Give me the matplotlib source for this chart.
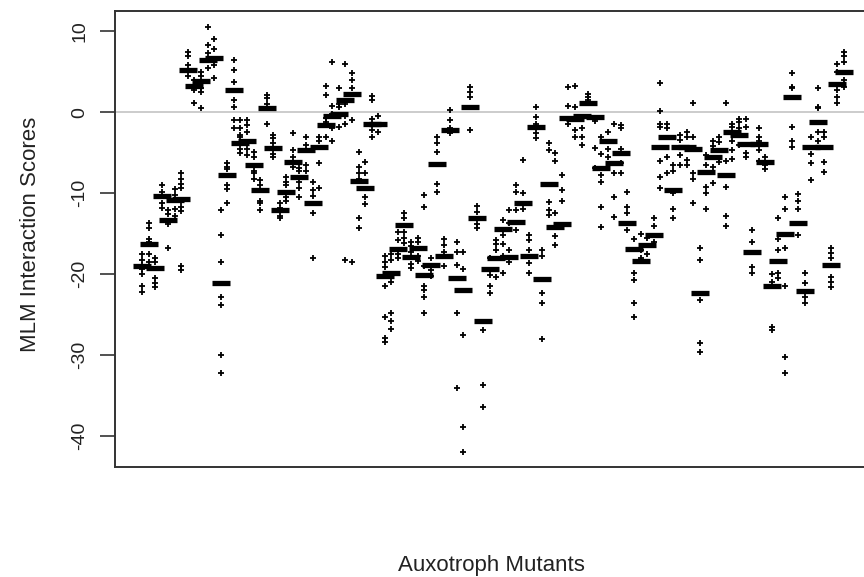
import numpy as np
import matplotlib
matplotlib.use("Agg")
import matplotlib.pyplot as plt

plt.rcParams['font.family'] = ['Liberation Sans', 'DejaVu Sans']

# median interaction score of each auxotroph mutant, left to right
medians = [
    -19.0, -16.3, -19.2, -10.4, -13.3, -10.8, -10.7, 5.2, 3.3, 3.8,
    6.5, 6.7, -21.1, -7.8, 2.8, -3.8, -3.5, -6.5, -9.6, 0.5,
    -4.4, -12.1, -9.9, -6.2, -8.0, -4.7, -11.2, -4.3, -1.6, -0.5,
    -0.2, 1.5, 2.2, -8.5, -9.4, -1.5, -1.5, -20.2, -19.9, -16.9,
    -13.9, -17.9, -16.8, -20.1, -18.9, -6.4, -17.8, -2.2, -20.5, -21.9,
    0.7, -13.0, -25.8, -19.3, -18.0, -14.4, -17.9, -13.5, -11.2, -17.8,
    -1.8, -20.6, -8.9, -14.2, -13.8, -0.7, -0.8, -0.5, 1.2, -0.6,
    -6.9, -3.5, -6.3, -5.0, -13.7, -16.9, -18.4, -16.4, -15.2, -4.3,
    -3.0, -9.6, -4.3, -4.3, -4.5, -22.3, -7.4, -5.5, -4.7, -7.8,
    -2.5, -2.8, -3.9, -17.3, -3.9, -6.1, -21.4, -18.4, -15.0, 1.9,
    -13.7, -22.1, -4.3, -1.2, -4.3, -18.9, 3.5, 5.0,
]

# individual replicate scores for each mutant
scores = [
    [-17.5, -18.2, -18.8, -19.3, -20.0, -21.5, -22.2],
    [-13.7, -14.3, -15.6, -16.0, -17.5, -18.5],
    [-18.0, -18.5, -20.5, -21.1, -21.6],
    [-9.0, -9.8, -11.2, -11.8],
    [-12.1, -12.6, -13.8, -16.8],
    [-9.5, -10.2, -12.0, -12.8],
    [-7.5, -8.3, -8.8, -9.3, -11.0, -11.7, -12.2, -19.0, -19.5],
    [7.0, 7.4, 5.8, 4.5],
    [4.0, 2.7, 1.2, 3.0],
    [5.0, 4.5, 2.5, 0.5, 3.0],
    [10.5, 8.3, 7.3, 5.5],
    [9.1, 7.8, 5.8, 4.2],
    [-12.1, -15.2, -18.5, -22.8, -23.8, -30.0, -32.2],
    [-6.3, -6.8, -7.0, -9.0, -9.5, -11.2],
    [6.5, 5.2, 3.7, 1.5, 0.6, -1.0, -2.0],
    [-1.0, -2.0, -2.8, -3.0, -4.5, -5.0],
    [-1.0, -1.6, -2.4, -4.5, -5.3],
    [-4.9, -5.5, -7.2, -7.5, -8.2],
    [-8.4, -9.0, -10.9, -11.2, -12.1],
    [2.1, 1.7, 1.0, -1.4],
    [-2.8, -3.2, -3.8, -5.2, -5.5],
    [-11.2, -11.8, -12.8, -13.0],
    [-8.0, -8.6, -9.0, -10.5, -11.0],
    [-2.6, -4.6, -5.5, -6.8],
    [-6.9, -7.3, -8.6, -9.3, -10.5],
    [-3.0, -4.0, -6.5, -7.3],
    [-8.6, -9.6, -10.3, -12.5, -18.0],
    [-3.1, -3.6, -6.3, -9.3],
    [3.3, 2.1, -0.7, -1.2, -3.0],
    [6.2, 0.8, -0.2, -2.0, -3.5],
    [3.0, 1.0, 0.6, -1.8],
    [6.0, 1.0, -0.5, -1.5, -18.3],
    [4.8, 4.0, 3.0, -1.0, -18.5],
    [-4.9, -6.8, -7.5, -8.2, -13.0, -14.3],
    [-6.2, -7.5, -10.5, -11.3],
    [2.0, 1.5, -0.8, -2.2, -3.0],
    [-0.5, -2.5],
    [-17.7, -18.5, -19.1, -21.4, -25.3, -27.9, -28.4],
    [-17.5, -18.3, -21.0, -24.8, -25.8, -26.8],
    [-14.8, -15.8, -17.5, -18.0],
    [-12.5, -13.0, -14.8, -15.5, -16.2],
    [-16.0, -16.5, -17.2, -18.7, -19.2],
    [-15.5, -16.0, -17.8, -18.4],
    [-10.2, -11.7, -19.0, -21.4, -22.0, -22.8, -24.8],
    [-18.0, -19.5, -20.2],
    [-3.1, -3.8, -4.9, -8.8, -9.9],
    [-15.6, -16.4, -17.2, -19.0],
    [0.3, -1.0, -1.9, -2.6],
    [-16.0, -17.3, -18.9, -24.8, -34.1],
    [-17.3, -19.3, -27.5, -38.9, -42.0],
    [3.1, 2.5, 1.9, -2.2],
    [-11.6, -12.3, -13.8, -14.3],
    [-26.9, -33.7, -36.4],
    [-18.0, -20.1, -21.4, -22.3],
    [-15.8, -16.3, -17.0, -20.3],
    [-13.3, -15.1, -16.3, -17.8, -19.9],
    [-12.1, -13.7, -17.0, -18.5],
    [-9.0, -9.8, -12.1, -14.5],
    [-5.9, -10.0, -12.0],
    [-15.1, -15.8, -17.0, -18.6, -19.8],
    [0.6, -0.6, -1.4, -2.6, -3.2],
    [-17.0, -17.8, -22.3, -23.5, -28.0],
    [-3.8, -4.7, -11.1, -12.1, -12.7],
    [-5.0, -6.0, -12.4, -15.3, -16.4],
    [-7.7, -9.6, -11.0],
    [3.1, 0.8, -1.5],
    [3.3, 0.6, -2.2, -3.1],
    [-2.0, -3.0, -4.0],
    [2.3, 1.9, 1.1, 1.5],
    [-1.1, -4.4, -6.9],
    [-3.1, -5.1, -7.8, -8.6, -11.7, -14.2],
    [-2.5, -4.5, -5.5],
    [-1.4, -7.5, -10.5, -12.9],
    [-1.6, -2.0, -4.5, -6.3, -7.5],
    [-9.8, -11.7, -12.5, -14.5],
    [-15.6, -19.9, -20.7, -23.5, -25.3],
    [-15.0, -17.0, -18.0],
    [-15.5, -17.5],
    [-13.1, -14.0, -16.0],
    [3.6, 0.2, -1.4, -1.8, -6.0, -8.0, -9.4],
    [-1.4, -2.0, -5.5, -7.5],
    [-6.5, -7.3, -10.0, -11.9, -13.1],
    [-2.8, -3.4, -5.3, -6.5],
    [-2.4, -3.0, -5.9, -6.5],
    [1.2, -3.0, -7.5, -8.2, -11.2],
    [-16.7, -18.3, -23.2, -28.5, -29.6],
    [-5.3, -6.5, -9.2, -10.0, -12.0],
    [-3.5, -4.2, -6.8, -8.7],
    [-3.0, -3.7, -5.8, -6.2],
    [1.2, -6.0, -9.2, -12.8, -14.0],
    [-1.4, -1.8, -3.5, -4.7, -5.8],
    [-0.8, -1.2, -2.0, -4.0],
    [-0.8, -1.8, -5.5, -5.0],
    [-14.6, -16.0, -19.1, -19.8],
    [-2.0, -3.0, -3.5, -4.7, -6.0],
    [-5.5, -6.5, -7.0],
    [-20.0, -21.0, -26.5, -26.9],
    [-13.1, -15.6, -17.0, -19.8, -20.5],
    [-10.5, -11.9, -16.7, -21.4, -30.2, -32.2],
    [4.8, 3.1, 3.0, -1.8, -3.5, -4.3],
    [-10.1, -10.9, -11.9, -15.2],
    [-19.9, -21.1, -22.8, -23.6],
    [-3.0, -5.1, -6.3, -8.4],
    [3.0, 0.6, 0.5, -2.5, -3.5],
    [-2.4, -3.0, -6.2, -7.4],
    [-16.7, -17.4, -18.0, -20.4, -21.0, -21.6],
    [6.0, 5.0, 2.7, 1.9, 1.2],
    [7.4, 7.0, 6.2, 4.0, 3.1],
]

yticks = [-40, -30, -20, -10, 0, 10]

fig = plt.figure(figsize=(8.64, 5.77), dpi=100)
ax = fig.add_axes([115 / 864, 1 - 467 / 577, 755 / 864, 456 / 577])

n = len(medians)
pos = np.arange(n)
step = 702 / (n - 1)  # pixels between mutants

ax.axhline(0, color="#c8c8c8", lw=1.3, zorder=1)

for x, vals in zip(pos, scores):
    ax.plot([x] * len(vals), vals, ls="none", marker="+", ms=4.5, mew=1.3,
            color="black", zorder=3)

half = 9 / step
ax.hlines(medians, pos - half, pos + half, colors="black", lw=3.8, zorder=4)

ax.set_xlim(-27 / step, 728 / step)
ax.set_ylim(-43.8, 12.5)
ax.set_xticks([])
ax.set_yticks(yticks)
ax.set_yticklabels([str(t) for t in yticks], rotation=90, va="center",
                   fontsize=14, color="#222222")
ax.tick_params(axis="y", length=11, width=1.2, color="#333333", pad=8)

for s in ax.spines.values():
    s.set_color("#333333")
    s.set_linewidth(1.4)

ax.set_ylabel("MLM Interaction Scores", fontsize=16, color="#222222")
ax.yaxis.label.set_va("center")
ax.yaxis.set_label_coords(-84 / 755, 0.51)
ax.set_xlabel("Auxotroph Mutants", fontsize=16, color="#222222")
ax.xaxis.label.set_va("center")
ax.xaxis.set_label_coords((491 - 115) / 755, -98 / 456)

fig.savefig("out.png", dpi=100)
